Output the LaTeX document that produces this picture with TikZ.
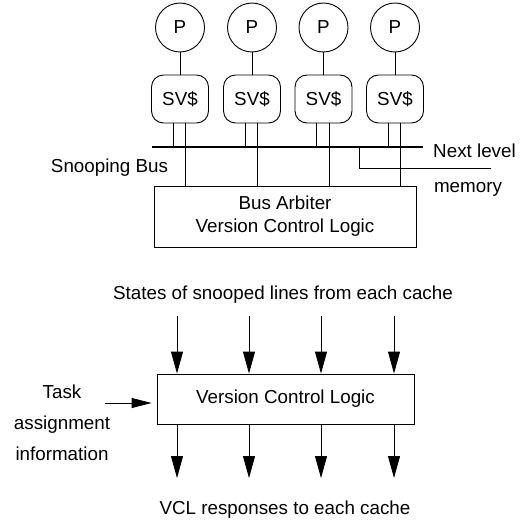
\documentclass[tikz,border=0pt]{standalone}
\usepackage{fontspec}
\setmainfont{Liberation Sans}
\usetikzlibrary{arrows.meta}
\tikzset{
	proc/.style={draw, circle, minimum size=49pt, inner sep=0pt, line width=0.9pt},
	cachebox/.style={draw, rectangle, rounded corners=12pt, minimum width=57pt, minimum height=48pt, inner sep=0pt, line width=0.9pt},
	logicbox/.style={draw, rectangle, inner sep=0pt, line width=0.9pt, align=center},
	wire/.style={line width=0.9pt},
	busline/.style={line width=2.6pt},
	bigarrow/.style={line width=0.9pt, -{Triangle[length=22pt,width=12pt]}},
	smallarrow/.style={line width=0.9pt, -{Triangle[length=20pt,width=10pt]}},
}

\begin{document}
\begin{tikzpicture}[x=1pt, y=-1pt, font=\fontsize{18.8}{23}\selectfont]
			%%%%% START %%%%%
			\useasboundingbox (0,0) rectangle (526,524);
			
			% processors and caches
			\node[proc] (p1) at (180, 27.5) {P};
			\node[proc] (p2) at (252, 27.5) {P};
			\node[proc] (p3) at (323.5, 27.5) {P};
			\node[proc] (p4) at (395, 27.5) {P};
			
			\node[cachebox] (c1) at (180, 99) {SV\$};
			\node[cachebox] (c2) at (252, 99) {SV\$};
			\node[cachebox] (c3) at (323.5, 99) {SV\$};
			\node[cachebox] (c4) at (395, 99) {SV\$};
			
			\draw[wire] (p1) -- (c1);
			\draw[wire] (p2) -- (c2);
			\draw[wire] (p3) -- (c3);
			\draw[wire] (p4) -- (c4);
			
			% snooping bus
			\coordinate (busL) at (152, 147);
			\coordinate (busR) at (423, 147);
			\draw[busline] (busL) -- (busR);
			
			\node[logicbox, minimum width=262pt, minimum height=61pt] (arb) at (285, 216.5) {Bus Arbiter\\Version Control Logic};
			
			\draw[wire] ([xshift=-7pt]c1.south) -- ([xshift=-7pt]c1.south |- busL);
			\draw[wire] ([xshift=-7pt]c2.south) -- ([xshift=-7pt]c2.south |- busL);
			\draw[wire] ([xshift=-7pt]c3.south) -- ([xshift=-7pt]c3.south |- busL);
			\draw[wire] ([xshift=-7pt]c4.south) -- ([xshift=-7pt]c4.south |- busL);
			
			\draw[wire] ([xshift=5.5pt]c1.south) -- ([xshift=5.5pt]c1.south |- arb.north);
			\draw[wire] ([xshift=5.5pt]c2.south) -- ([xshift=5.5pt]c2.south |- arb.north);
			\draw[wire] ([xshift=5.5pt]c3.south) -- ([xshift=5.5pt]c3.south |- arb.north);
			\draw[wire] ([xshift=5.5pt]c4.south) -- ([xshift=5.5pt]c4.south |- arb.north);
			
			\coordinate (tap) at (359, 147);
			\coordinate (memend) at (491, 168);
			\draw[wire] (tap) |- (memend);
			
			\node (nextlvl) at (474.5, 151) {Next level};
			\node (memlbl) at (468, 189) {memory};
			\node (snoop) at (109.5, 168) {Snooping Bus};
			
			% version control logic
			\node (states) at (283, 295) {States of snooped lines from each cache};
			\node[logicbox, minimum width=257pt, minimum height=50pt] (vcl) at (285.5, 399) {Version Control Logic};
			
			\coordinate (s1) at (177, 316);
			\coordinate (s2) at (249, 316);
			\coordinate (s3) at (321, 316);
			\coordinate (s4) at (394, 316);
			\draw[bigarrow] (s1) -- (s1 |- vcl.north);
			\draw[bigarrow] (s2) -- (s2 |- vcl.north);
			\draw[bigarrow] (s3) -- (s3 |- vcl.north);
			\draw[bigarrow] (s4) -- (s4 |- vcl.north);
			
			\coordinate (r1) at (177, 478);
			\coordinate (r2) at (249, 478);
			\coordinate (r3) at (321, 478);
			\coordinate (r4) at (394, 478);
			\draw[bigarrow] (r1 |- vcl.south) -- (r1);
			\draw[bigarrow] (r2 |- vcl.south) -- (r2);
			\draw[bigarrow] (r3 |- vcl.south) -- (r3);
			\draw[bigarrow] (r4 |- vcl.south) -- (r4);
			
			\node (resp) at (285, 510) {VCL responses to each cache};
			
			\node[align=center, font=\fontsize{18.8}{31}\selectfont] (task) at (62, 423) {Task\\assignment\\information};
			\coordinate (taskin) at (105, 403);
			\draw[smallarrow, shorten >=5pt] (taskin) -- (vcl.west |- taskin);
			
			%%%%% END %%%%%
\end{tikzpicture}
\end{document}
